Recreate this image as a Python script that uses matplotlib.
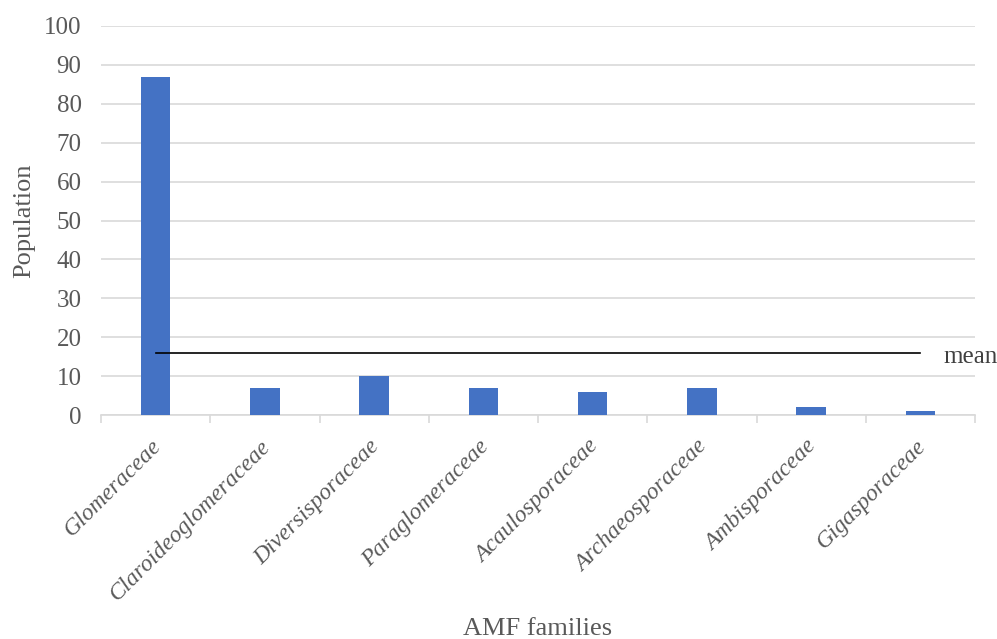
import matplotlib
matplotlib.use("Agg")
import matplotlib.pyplot as plt
import matplotlib.transforms as mtransforms
import numpy as np

families = ["Glomeraceae", "Claroideoglomeraceae", "Diversisporaceae", "Paraglomeraceae",
            "Acaulosporaceae", "Archaeosporaceae", "Ambisporaceae", "Gigasporaceae"]
population = [87, 7, 10, 7, 6, 7, 2, 1]
y_ticks = [0, 10, 20, 30, 40, 50, 60, 70, 80, 90, 100]

plt.rcParams["font.family"] = ["Liberation Serif", "DejaVu Serif"]
TXT = "#595959"

fig = plt.figure(figsize=(9.97, 6.39), dpi=100)
ax = fig.add_axes([101 / 997, 1 - 415 / 639, (975 - 101) / 997, (415 - 26) / 639])

x = np.arange(len(families))
ax.bar(x, population, width=0.27, color="#4472c4", zorder=3)

# horizontal mean line spanning the first to the last category
mean_val = float(np.mean(population))
ax.plot([x[0], x[-1]], [mean_val, mean_val], color="black", lw=1.2, zorder=4)
ax.text(x[-1] + 0.21, mean_val - 1.0, "mean", fontsize=18, color="#404040",
        va="center", ha="left")

ax.set_xlim(-0.5, len(families) - 0.5)
ax.set_ylim(0, 100)
ax.set_yticks(y_ticks)
ax.yaxis.grid(True, color="#d9d9d9", lw=1.2, zorder=0)
ax.set_axisbelow(True)

for s in ["top", "right", "left"]:
    ax.spines[s].set_visible(False)
ax.spines["bottom"].set_color("#d9d9d9")
ax.spines["bottom"].set_linewidth(1.2)

ax.tick_params(axis="y", length=0, labelsize=18, labelcolor=TXT, pad=14)

# major ticks at category boundaries, labels on minor ticks at category centres
ax.set_xticks(np.arange(len(families) + 1) - 0.5)
ax.set_xticklabels([])
ax.tick_params(axis="x", length=6, color="#d9d9d9", width=1.2)
ax.set_xticks(x, minor=True)
ax.set_xticklabels(families, minor=True, rotation=45, ha="right", va="top",
                   rotation_mode="anchor", fontstyle="italic", fontsize=17,
                   color=TXT)
ax.tick_params(axis="x", which="minor", length=0, pad=15)
shift = mtransforms.ScaledTranslation(-0.05, 0, fig.dpi_scale_trans)
for lbl in ax.get_xticklabels(minor=True):
    lbl.set_transform(lbl.get_transform() + shift)

ax.set_ylabel("Population", fontsize=19, color=TXT)
ax.yaxis.set_label_coords(-0.075, 0.5)
ax.set_xlabel("AMF families", fontsize=19, color=TXT)
ax.xaxis.set_label_coords(0.5, -0.523)

fig.savefig("out.png", dpi=100)
